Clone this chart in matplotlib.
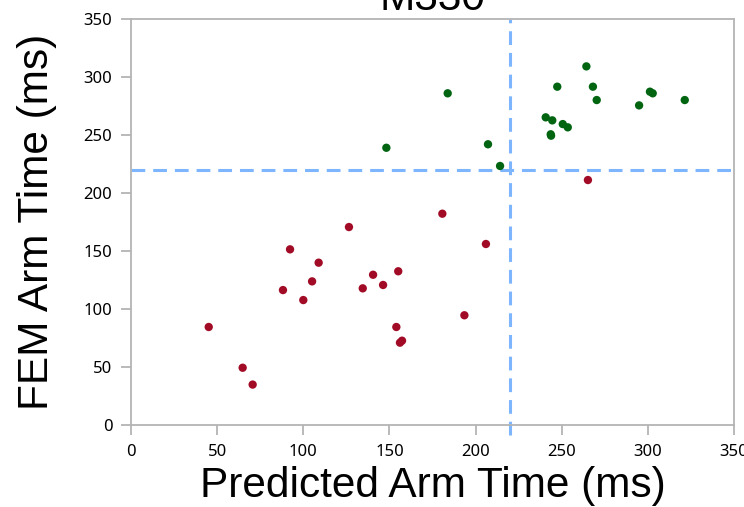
import matplotlib.pyplot as plt

# points below the 220 ms threshold (red) and above it (green)
red_x = [45.1, 64.8, 70.6, 88.2, 92.3, 100.0, 105.1, 108.9, 126.5, 134.5,
         140.5, 146.3, 155.1, 154.0, 156.1, 157.3, 180.7, 193.5, 206.0, 265.2]
red_y = [84.7, 49.6, 35.1, 116.5, 151.6, 107.9, 124.0, 140.1, 170.8, 118.0,
         129.7, 120.9, 132.7, 84.7, 71.2, 72.9, 182.3, 94.8, 156.2, 211.3]

green_x = [148.2, 183.8, 207.2, 214.2, 240.7, 244.5, 243.6, 243.8, 247.4, 250.6,
           253.5, 264.3, 268.1, 270.3, 294.9, 301.2, 302.8, 321.4]
green_y = [239.1, 286.0, 242.1, 223.4, 265.3, 262.7, 250.7, 249.5, 291.7, 259.5,
           256.7, 309.2, 291.7, 280.2, 275.6, 287.4, 286.0, 280.2]

threshold = 220
ticks = [0, 50, 100, 150, 200, 250, 300, 350]

fig = plt.figure(figsize=(7.44, 5.07), dpi=100)
ax = fig.add_axes([0.1761, 0.1611, 0.8105, 0.8014])

ax.axhline(threshold, color="#7db6ff", lw=2.2, dashes=(4.5, 2.6), zorder=1)
ax.plot([threshold, threshold], [-8.5, 350], color="#7db6ff", lw=2.2,
        dashes=(4.5, 2.6), clip_on=False, zorder=1)

ax.scatter(red_x, red_y, s=36, color="#a20b25", edgecolors="none", zorder=3)
ax.scatter(green_x, green_y, s=36, color="#006410", edgecolors="none", zorder=3)

ax.set_xlim(0, 350)
ax.set_ylim(0, 350)
ax.set_xticks(ticks)
ax.set_yticks(ticks)

for sp in ax.spines.values():
    sp.set_color("#b4b4b4")
    sp.set_linewidth(1.3)
ax.tick_params(direction="out", length=7.5, width=1.3, color="#b4b4b4",
               labelsize=12, pad=6)
for lab in ax.get_xticklabels() + ax.get_yticklabels():
    lab.set_fontfamily("Noto Sans")

ax.set_xlabel("Predicted Arm Time (ms)", fontsize=30.5, family="Liberation Sans",
              labelpad=4)
ax.set_ylabel("FEM Arm Time (ms)", fontsize=30.5, family="Liberation Sans",
              labelpad=19)
ax.set_title("M330", fontsize=30.5, family="Liberation Sans", pad=6.5)

fig.savefig("out.png", dpi=100)
